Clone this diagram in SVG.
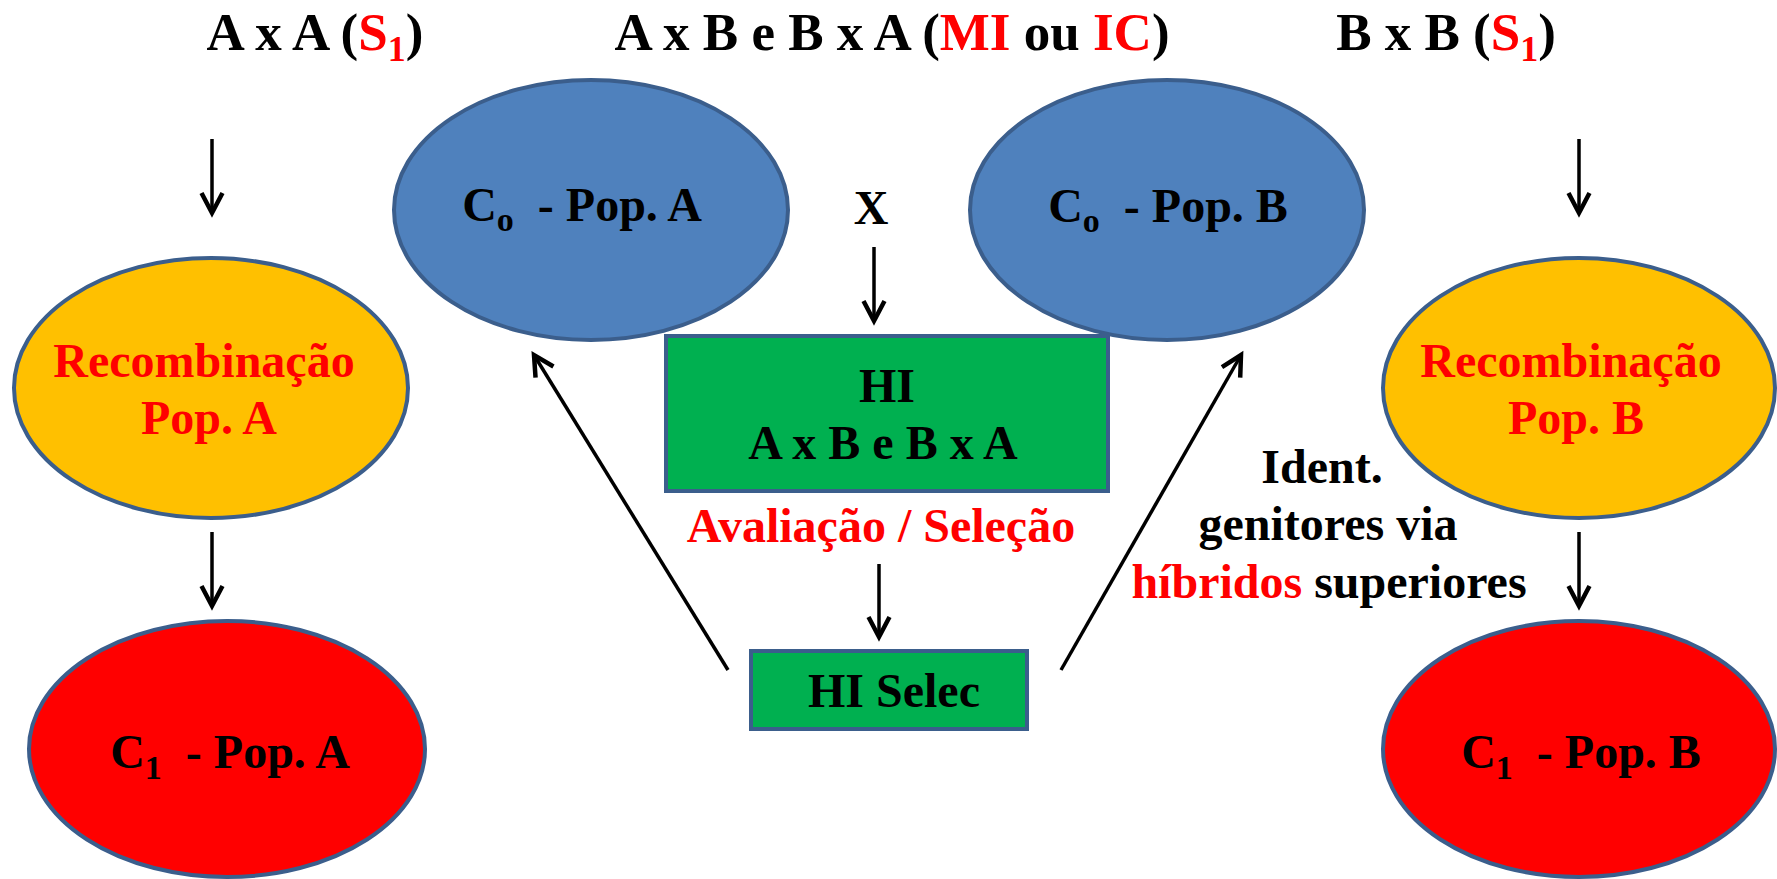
<svg xmlns="http://www.w3.org/2000/svg" width="1777" height="879" viewBox="0 0 1777 879">
<style>
text{font-family:"Liberation Serif","Times New Roman",serif;font-weight:bold;white-space:pre;text-anchor:middle;fill:#000}
.t{font-size:53px}
.b{font-size:48px}
.r{fill:#FF0000}
.blue{fill:#4F81BD;stroke:#3B5E8C;stroke-width:4}
.orange{fill:#FFC000;stroke:#3B5E8C;stroke-width:4}
.red{fill:#FF0000;stroke:#3B5E8C;stroke-width:4}
.green{fill:#00B050;stroke:#3B5E8C;stroke-width:4}
.arr{stroke:#000;stroke-width:3.5;fill:none;marker-end:url(#ah)}
</style>
<defs>
<marker id="ah" markerUnits="userSpaceOnUse" markerWidth="30" markerHeight="30" viewBox="-25 -15 30 30" refX="0" refY="0" orient="auto" overflow="visible">
<path d="M-20,-10.5 L0,0 L-20,10.5" fill="none" stroke="#000" stroke-width="4.5" stroke-linejoin="miter"/>
</marker>
</defs>
<rect width="1777" height="879" fill="#fff"/>

<g id="titles">
<text class="t" x="315" y="50">A x A (<tspan class="r">S</tspan><tspan class="r" font-size="36" dy="11">1</tspan><tspan dy="-11">)</tspan></text>
<text class="t" x="892" y="50">A x B e B x A (<tspan class="r">MI</tspan> ou <tspan class="r">IC</tspan>)</text>
<text class="t" x="1446" y="50">B x B (<tspan class="r">S</tspan><tspan class="r" font-size="36" dy="11">1</tspan><tspan dy="-11">)</tspan></text>
</g>

<g id="c0-pop-a">
<ellipse class="blue" cx="591" cy="210" rx="197" ry="130"/>
<text class="b" x="582" y="221">C<tspan font-size="34" dy="10">o</tspan><tspan dy="-10">  - Pop. A</tspan></text>
</g>

<g id="c0-pop-b">
<ellipse class="blue" cx="1167" cy="210" rx="197" ry="130"/>
<text class="b" x="1168" y="222">C<tspan font-size="34" dy="10">o</tspan><tspan dy="-10">  - Pop. B</tspan></text>
</g>

<g id="x-label">
<text class="b" x="871" y="224">X</text>
</g>

<g id="recomb-a">
<ellipse class="orange" cx="211" cy="388" rx="197" ry="130"/>
<text class="b r" x="204" y="377">Recombinação</text>
<text class="b r" x="209" y="434">Pop. A</text>
</g>

<g id="recomb-b">
<ellipse class="orange" cx="1579" cy="388" rx="196" ry="130"/>
<text class="b r" x="1571" y="377">Recombinação</text>
<text class="b r" x="1576" y="434">Pop. B</text>
</g>

<g id="c1-pop-a">
<ellipse class="red" cx="227" cy="749" rx="198" ry="128"/>
<text class="b" x="230" y="768">C<tspan font-size="34" dy="11">1</tspan><tspan dy="-11">  - Pop. A</tspan></text>
</g>

<g id="c1-pop-b">
<ellipse class="red" cx="1579" cy="749" rx="196" ry="128"/>
<text class="b" x="1581" y="768">C<tspan font-size="34" dy="11">1</tspan><tspan dy="-11">  - Pop. B</tspan></text>
</g>

<g id="hi">
<rect class="green" x="666" y="336" width="442" height="155"/>
<text class="b" x="887" y="402">HI</text>
<text class="b" x="883" y="459">A x B e B x A</text>
</g>

<g id="avaliacao">
<text class="b r" x="881" y="542">Avaliação / Seleção</text>
</g>

<g id="hi-selec">
<rect class="green" x="751" y="651" width="276" height="78"/>
<text class="b" x="894" y="707">HI Selec</text>
</g>

<g id="ident">
<text class="b" x="1322" y="483">Ident.</text>
<text class="b" x="1328" y="540">genitores via</text>
<text class="b" x="1329" y="598"><tspan class="r">híbridos</tspan> superiores</text>
</g>

<g id="connectors">
<line class="arr" x1="212" y1="139" x2="212" y2="213"/>
<line class="arr" x1="1579" y1="139" x2="1579" y2="213"/>
<line class="arr" x1="212" y1="532" x2="212" y2="606"/>
<line class="arr" x1="1579" y1="532" x2="1579" y2="606"/>
<line class="arr" x1="874" y1="247" x2="874" y2="321"/>
<line class="arr" x1="879" y1="564" x2="879" y2="637"/>
<line class="arr" x1="728" y1="670" x2="534" y2="355"/>
<line class="arr" x1="1061" y1="670" x2="1241" y2="355"/>
</g>
</svg>
